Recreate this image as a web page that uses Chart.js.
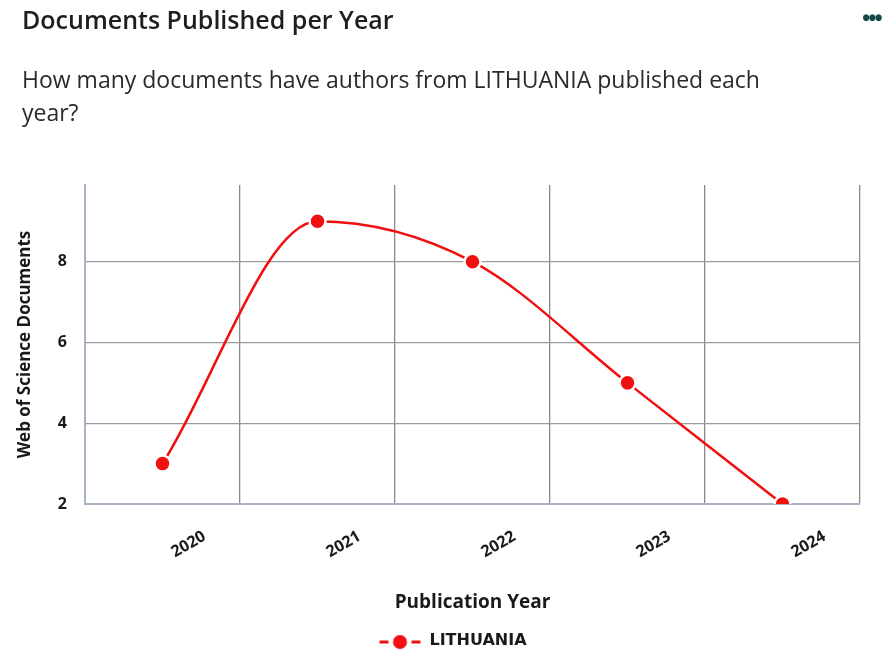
<!DOCTYPE html>
<html>
<head>
<meta charset="utf-8">
<script src="https://cdn.jsdelivr.net/npm/chart.js@4.4.0/dist/chart.umd.min.js"></script>
<style>
  html, body { margin: 0; padding: 0; background: #ffffff; }
  body { width: 886px; height: 655px; position: relative; overflow: hidden; font-family: "Open Sans", sans-serif; }
  #title { position: absolute; left: 22px; top: 2px; font-size: 25px; font-weight: 600; color: #1e1e1e; white-space: nowrap; }
  #dots { position: absolute; left: 862px; top: 2px; font-size: 22px; font-weight: 700; color: #164a48; letter-spacing: -2px; white-space: nowrap; }
  #subtitle { position: absolute; left: 22px; top: 63px; font-size: 23px; line-height: 33px; color: #2a2a2a; width: 850px; }
  #wrap { position: absolute; left: 0; top: 0; width: 886px; height: 655px; }
</style>
</head>
<body>
<div id="wrap"><canvas id="c" width="886" height="655"></canvas></div>
<div id="title">Documents Published per Year</div>
<div id="dots">•••</div>
<div id="subtitle">How many documents have authors from LITHUANIA published each<br>year?</div>
<script>
const years = ["2020", "2021", "2022", "2023", "2024"];
const seriesName = "LITHUANIA";
const documents = [3, 9, 8, 5, 2];
const yTicks = [2, 4, 6, 8];

// legend marker: dashed line with a dot (left transparent margin shifts legend)
function makeMarker() {
  const cv = document.createElement('canvas');
  cv.width = 88; cv.height = 18;
  const g = cv.getContext('2d');
  g.strokeStyle = '#f01010';
  g.lineWidth = 3;
  g.beginPath();
  g.moveTo(46, 10); g.lineTo(55, 10);
  g.moveTo(78, 10); g.lineTo(87, 10);
  g.stroke();
  g.fillStyle = '#f01010';
  g.beginPath(); g.arc(66.5, 10, 7, 0, Math.PI * 2); g.fill();
  return cv;
}
const marker = makeMarker();

new Chart(document.getElementById('c'), {
  type: 'line',
  data: {
    labels: years,
    datasets: [{
      label: seriesName,
      data: documents,
      borderColor: '#f01010',
      backgroundColor: '#f01010',
      borderWidth: 2.5,
      cubicInterpolationMode: 'monotone',
      pointRadius: 8,
      pointHoverRadius: 8,
      pointBackgroundColor: '#f01010',
      pointBorderColor: '#ffffff',
      pointBorderWidth: 2.5,
      fill: false
    }]
  },
  options: {
    responsive: false,
    animation: false,
    layout: { padding: { top: 185, right: 26, left: 0, bottom: -4 } },
    plugins: {
      title: { display: false },
      tooltip: { enabled: false },
      legend: {
        position: 'bottom',
        labels: {
          usePointStyle: true,
          pointStyle: marker,
          pointStyleWidth: 88,
          boxHeight: 18,
          padding: 8,
          color: '#1a1a1a',
          font: { family: 'DejaVu Sans', size: 16, weight: 'bold' }
        }
      }
    },
    scales: {
      x: {
        offset: true,
        grid: { offset: true, color: '#8a8a8a', lineWidth: 1.3, drawTicks: false },
        border: { color: '#a7b3c2', width: 2 },
        ticks: {
          minRotation: 30, maxRotation: 30,
          labelOffset: 42,
          padding: 23,
          color: '#1a1a1a',
          font: { family: 'Open Sans', size: 16, weight: 'bold' }
        },
        title: {
          display: true, text: 'Publication Year', color: '#1a1a1a',
          font: { family: 'Open Sans', size: 19, weight: 'bold' },
          padding: { top: 0, bottom: 11 }
        },
        afterFit: (s) => { s.height = 121; }
      },
      y: {
        min: 2, max: 9.9,
        grid: { color: '#9a9a9a', lineWidth: 1.3, drawTicks: false },
        border: { color: '#a7b3c2', width: 2 },
        ticks: {
          stepSize: 2,
          padding: 18,
          color: '#1a1a1a',
          font: { family: 'Open Sans', size: 16, weight: 'bold' }
        },
        afterBuildTicks: (s) => { s.ticks = yTicks.map(v => ({ value: v })); },
        title: {
          display: true, text: 'Web of Science Documents', color: '#1a1a1a',
          font: { family: 'Open Sans', size: 17, weight: 'bold' },
          padding: { top: 15, bottom: 0 }
        },
        afterFit: (s) => { s.width = 85; }
      }
    }
  }
});
</script>
</body>
</html>
